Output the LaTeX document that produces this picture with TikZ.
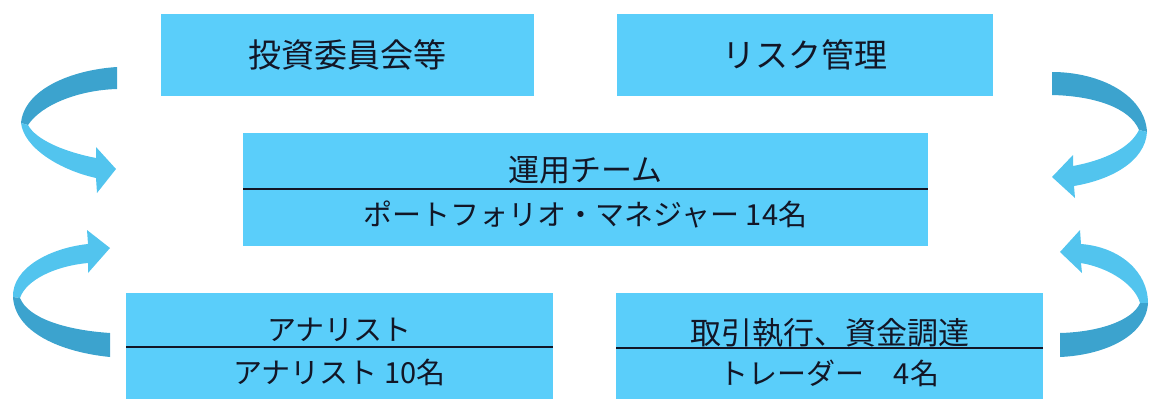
\documentclass[tikz,border=0pt]{standalone}
\usepackage{fontspec}
\setmainfont{Noto Sans CJK JP}
\definecolor{boxblue}{RGB}{90,206,250}
\definecolor{arrlight}{RGB}{82,196,238}
\definecolor{arrdark}{RGB}{60,163,206}
\definecolor{ink}{RGB}{18,22,38}
\tikzset{
  box/.style={rectangle, fill=boxblue, draw=none, inner sep=0pt, text=ink},
  lbl/.style={inner sep=0pt, text=ink},
  fA/.style={font=\fontsize{33}{38}\selectfont},
  fB/.style={font=\fontsize{31}{36}\selectfont},
  fC/.style={font=\fontsize{29}{34}\selectfont},
  divider/.style={draw=ink, line width=1.6pt},
  lightpart/.style={fill=arrlight, draw=none},
  darkpart/.style={fill=arrdark, draw=none}
}
\begin{document}
\begin{tikzpicture}[x=1pt,y=-1pt]
\useasboundingbox (0,0) rectangle (1150,399);
% top boxes
\node[box,fA,minimum width=373pt,minimum height=82pt] (b1) at (347.5,55) {投資委員会等};
\node[box,fA,minimum width=376pt,minimum height=82pt] (b2) at (805,55) {リスク管理};
% middle box
\node[box,minimum width=685pt,minimum height=113pt] (m) at (585.5,189.5) {};
\coordinate (mL) at (243,189);
\coordinate (mR) at (928,189);
\draw[divider] (mL) -- (mR);
\node[lbl,fB] (mt) at (585.5,170) {運用チーム};
\node[lbl,fC] (mb) at (585.5,214) {ポートフォリオ・マネジャー 14名};
% bottom-left box
\node[box,minimum width=427pt,minimum height=106pt] (bl) at (339.5,346) {};
\coordinate (blL) at (126,347);
\coordinate (blR) at (553,347);
\draw[divider] (blL) -- (blR);
\node[lbl,fC] (blt) at (339.5,330) {アナリスト};
\node[lbl,fC] (blb) at (339.5,372) {アナリスト 10名};
% bottom-right box
\node[box,minimum width=427pt,minimum height=106pt] (br) at (829.5,346) {};
\coordinate (brL) at (616,348);
\coordinate (brR) at (1043,348);
\draw[divider] (brL) -- (brR);
\node[lbl,fB] (brt) at (829.5,333) {取引執行、資金調達};
\node[lbl,fC] (brb) at (829.5,373) {トレーダー　4名};
% left upper arrow
\fill[darkpart] (117,67) .. controls (70,70) and (24,90) .. (21,123) -- (28,125) .. controls (42,104) and (80,90) .. (117,89) -- cycle;
\fill[lightpart] (21,123) .. controls (24,148) and (60,170) .. (96,178) -- (97,193) -- (116,169) -- (96,147) -- (96,158) .. controls (65,152) and (36,140) .. (28,125) -- cycle;
% left lower arrow
\fill[lightpart] (13,297) .. controls (12,268) and (50,248) .. (88,244) -- (87,230) -- (110,248) -- (88,273) -- (88,263) .. controls (55,266) and (26,280) .. (20,298) -- cycle;
\fill[darkpart] (13,297) .. controls (15,332) and (60,352) .. (110,357) -- (110,333) .. controls (65,330) and (28,318) .. (20,298) -- cycle;
% right upper arrow
\fill[darkpart] (1052,72) .. controls (1100,72) and (1145,95) .. (1147,132) -- (1139,130) .. controls (1130,108) and (1095,96) .. (1052,95) -- cycle;
\fill[lightpart] (1147,132) .. controls (1145,162) and (1110,180) .. (1074,186) -- (1075,198) -- (1052,177) -- (1073,155) -- (1073,166) .. controls (1105,160) and (1130,148) .. (1139,130) -- cycle;
% right lower arrow
\fill[lightpart] (1081,244) .. controls (1120,247) and (1148,272) .. (1148,303) -- (1140,303) .. controls (1135,285) and (1110,268) .. (1081,263) -- (1082,273) -- (1060,252) -- (1080,230) -- cycle;
\fill[darkpart] (1148,303) .. controls (1146,336) and (1105,355) .. (1060,357) -- (1060,333) .. controls (1100,332) and (1133,320) .. (1140,303) -- cycle;
\end{tikzpicture}
\end{document}
